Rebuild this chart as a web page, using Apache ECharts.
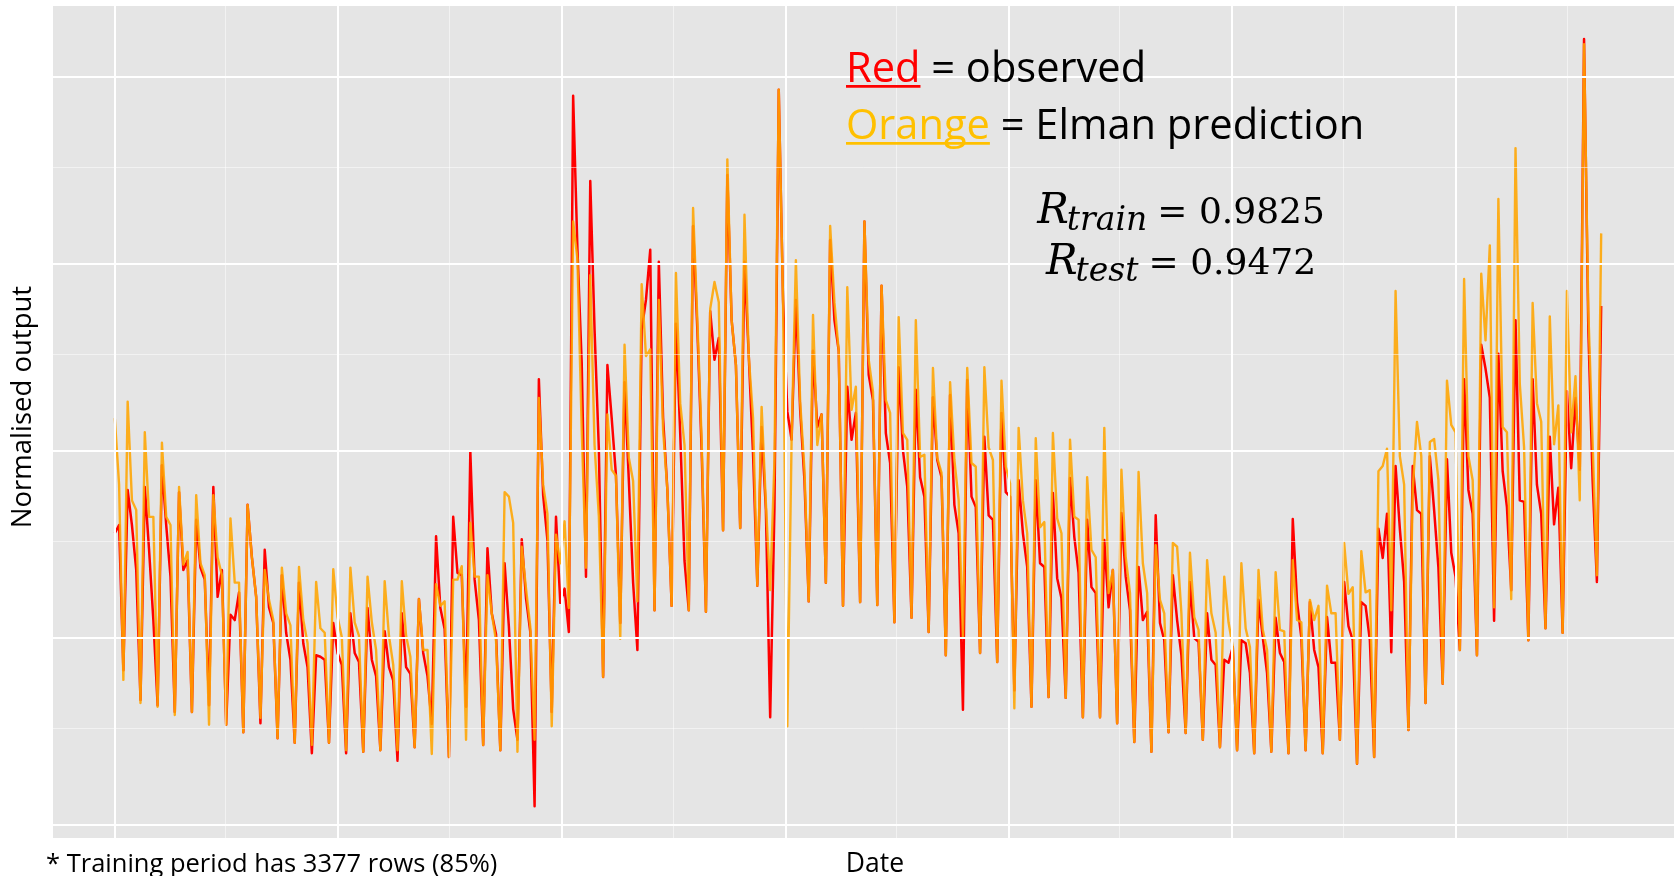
<!DOCTYPE html>
<html>
<head>
<meta charset="utf-8">
<title>Elman network: observed vs predicted</title>
<script src="https://cdn.jsdelivr.net/npm/echarts@6.0.0/dist/echarts.min.js"></script>
<style>
  html, body { margin: 0; padding: 0; background: #ffffff; }
  #chart { width: 1674px; height: 876px; }
</style>
</head>
<body>
<div id="chart"></div>
<script>
// Weekly samples starting at the first week of 2011.
const firstWeek = '2011-01-01';
const weekMs = 7 * 24 * 3600 * 1000;

// Observed output (normalised), one value per week.
const observed = [
  0.390, 0.401, 0.207,
  0.448, 0.401, 0.341, 0.167,  0.452, 0.368, 0.274, 0.160,  0.481, 0.401, 0.332, 0.151,
  0.445, 0.341, 0.354, 0.151,  0.408, 0.344, 0.328, 0.160,  0.452, 0.305, 0.341, 0.134,
  0.281, 0.274, 0.311, 0.124,  0.428, 0.358, 0.305, 0.136,  0.368, 0.291, 0.270, 0.116,
  0.334, 0.257, 0.221, 0.110,  0.324, 0.243, 0.211, 0.096,  0.227, 0.225, 0.221, 0.110,
  0.270, 0.230, 0.214, 0.096,  0.283, 0.230, 0.218, 0.098,  0.290, 0.221, 0.199, 0.100,
  0.259, 0.211, 0.193, 0.086,  0.283, 0.211, 0.202, 0.104,  0.302, 0.230, 0.199, 0.135,
  0.386, 0.290, 0.262, 0.091,  0.412, 0.337, 0.334, 0.158,  0.499, 0.328, 0.274, 0.107,
  0.370, 0.283, 0.255, 0.100,  0.350, 0.265, 0.155, 0.114,  0.382, 0.303, 0.258, 0.025,
  0.596, 0.441, 0.381, 0.151,  0.412, 0.297, 0.316, 0.258,  0.975, 0.770, 0.618, 0.332,
  0.861, 0.662, 0.503, 0.198,  0.615, 0.544, 0.467, 0.270,  0.592, 0.461, 0.324, 0.234,
  0.662, 0.702, 0.769, 0.287,  0.753, 0.544, 0.448, 0.293,  0.670, 0.523, 0.353, 0.287,
  0.801, 0.662, 0.501, 0.285,  0.687, 0.622, 0.651, 0.394,  0.869, 0.675, 0.615, 0.397,
  0.753, 0.627, 0.496, 0.320,  0.532, 0.421, 0.144, 0.425,  0.983, 0.702, 0.553, 0.515,
  0.702, 0.555, 0.461, 0.299,  0.634, 0.532, 0.549, 0.324,  0.782, 0.675, 0.634, 0.293,
  0.586, 0.515, 0.551, 0.298,  0.807, 0.602, 0.568, 0.294,  0.721, 0.524, 0.484, 0.271,
  0.612, 0.501, 0.452, 0.277,  0.582, 0.465, 0.439, 0.258,  0.572, 0.488, 0.465, 0.227,
  0.575, 0.428, 0.390, 0.154,  0.595, 0.439, 0.425, 0.230,  0.519, 0.414, 0.408, 0.218,
  0.551, 0.445, 0.439, 0.180,  0.461, 0.390, 0.345, 0.158,  0.461, 0.350, 0.345, 0.171,
  0.444, 0.330, 0.303, 0.170,  0.464, 0.385, 0.337, 0.144,  0.408, 0.318, 0.310, 0.144,
  0.381, 0.291, 0.341, 0.136,  0.417, 0.332, 0.287, 0.111,  0.345, 0.274, 0.285, 0.098,
  0.414, 0.270, 0.247, 0.124,  0.334, 0.274, 0.227, 0.123,  0.325, 0.250, 0.245, 0.114,
  0.283, 0.221, 0.214, 0.104,  0.221, 0.217, 0.238, 0.100,  0.247, 0.243, 0.203, 0.096,
  0.301, 0.251, 0.203, 0.098,  0.277, 0.230, 0.218, 0.096,  0.409, 0.298, 0.251, 0.100,
  0.298, 0.234, 0.211, 0.096,  0.278, 0.217, 0.217, 0.114,  0.325, 0.266, 0.247, 0.082,
  0.298, 0.293, 0.247, 0.091,  0.396, 0.357, 0.416, 0.231,  0.480, 0.396, 0.325, 0.127,
  0.480, 0.421, 0.416, 0.163,  0.493, 0.421, 0.344, 0.189,  0.489, 0.364, 0.332, 0.234,
  0.596, 0.448, 0.416, 0.227,  0.642, 0.610, 0.571, 0.273,  0.630, 0.473, 0.425, 0.314,
  0.675, 0.434, 0.432, 0.247,  0.596, 0.455, 0.416, 0.263,  0.519, 0.402, 0.451, 0.257,
  0.580, 0.477, 0.571, 0.475,  1.051, 0.662, 0.461, 0.325,
  0.694
];

// Elman network prediction (normalised), same weeks.
const predicted = [
  0.544, 0.455, 0.194,
  0.566, 0.434, 0.421, 0.163,  0.525, 0.412, 0.412, 0.158,  0.511, 0.412, 0.401, 0.147,
  0.452, 0.348, 0.365, 0.151,  0.441, 0.350, 0.334, 0.134,  0.441, 0.358, 0.334, 0.134,
  0.410, 0.324, 0.324, 0.124,  0.428, 0.358, 0.305, 0.143,  0.341, 0.301, 0.274, 0.116,
  0.344, 0.283, 0.267, 0.110,  0.345, 0.274, 0.243, 0.107,  0.325, 0.263, 0.257, 0.110,
  0.342, 0.278, 0.251, 0.100,  0.344, 0.271, 0.253, 0.098,  0.332, 0.271, 0.234, 0.100,
  0.326, 0.253, 0.214, 0.100,  0.326, 0.253, 0.225, 0.104,  0.302, 0.234, 0.234, 0.095,
  0.322, 0.293, 0.299, 0.091,  0.328, 0.328, 0.346, 0.114,  0.404, 0.332, 0.332, 0.107,
  0.334, 0.283, 0.246, 0.100,  0.445, 0.439, 0.404, 0.098,  0.372, 0.316, 0.265, 0.114,
  0.571, 0.455, 0.416, 0.132,  0.388, 0.350, 0.406, 0.290,  0.807, 0.757, 0.529, 0.344,
  0.735, 0.508, 0.413, 0.198,  0.549, 0.475, 0.467, 0.249,  0.642, 0.491, 0.460, 0.299,
  0.723, 0.627, 0.636, 0.287,  0.702, 0.528, 0.448, 0.293,  0.738, 0.564, 0.508, 0.287,
  0.825, 0.675, 0.515, 0.285,  0.690, 0.726, 0.699, 0.394,  0.890, 0.675, 0.615, 0.397,
  0.816, 0.627, 0.544, 0.320,  0.559, 0.430, 0.314, 0.488,  0.983, 0.702, 0.132, 0.515,
  0.755, 0.566, 0.475, 0.299,  0.682, 0.508, 0.549, 0.324,  0.801, 0.699, 0.634, 0.293,
  0.719, 0.555, 0.586, 0.298,  0.807, 0.622, 0.579, 0.294,  0.721, 0.568, 0.551, 0.271,
  0.679, 0.524, 0.515, 0.277,  0.675, 0.492, 0.495, 0.258,  0.611, 0.491, 0.471, 0.227,
  0.592, 0.488, 0.434, 0.251,  0.611, 0.484, 0.479, 0.230,  0.612, 0.505, 0.488, 0.218,
  0.594, 0.479, 0.457, 0.156,  0.531, 0.434, 0.390, 0.158,  0.517, 0.398, 0.405, 0.171,
  0.524, 0.410, 0.390, 0.170,  0.515, 0.412, 0.408, 0.144,  0.465, 0.368, 0.358, 0.144,
  0.531, 0.310, 0.341, 0.136,  0.475, 0.358, 0.310, 0.111,  0.472, 0.350, 0.310, 0.098,
  0.374, 0.301, 0.283, 0.124,  0.377, 0.372, 0.283, 0.123,  0.364, 0.278, 0.261, 0.114,
  0.354, 0.283, 0.257, 0.104,  0.332, 0.271, 0.238, 0.100,  0.350, 0.263, 0.238, 0.096,
  0.341, 0.261, 0.234, 0.098,  0.338, 0.261, 0.259, 0.096,  0.354, 0.274, 0.271, 0.100,
  0.301, 0.274, 0.293, 0.096,  0.320, 0.283, 0.283, 0.114,  0.377, 0.309, 0.318, 0.082,
  0.366, 0.311, 0.314, 0.091,  0.473, 0.480, 0.503, 0.287,  0.714, 0.493, 0.455, 0.127,
  0.448, 0.539, 0.493, 0.163,  0.512, 0.516, 0.461, 0.189,  0.594, 0.535, 0.525, 0.234,
  0.730, 0.493, 0.461, 0.227,  0.737, 0.648, 0.775, 0.291,  0.837, 0.532, 0.525, 0.302,
  0.905, 0.590, 0.505, 0.247,  0.698, 0.564, 0.539, 0.263,  0.680, 0.509, 0.561, 0.257,
  0.714, 0.525, 0.600, 0.434,  1.044, 0.687, 0.512, 0.334,
  0.791
];

// Panel gridlines: years (major) and mid-years (minor); output levels.
const yearStarts = ['2011-01-01', '2012-01-01', '2013-01-01', '2014-01-01', '2015-01-01', '2016-01-01', '2017-01-01'];
const midYears = ['2011-07-01', '2012-07-01', '2013-07-01', '2014-07-01', '2015-07-01', '2016-07-01', '2017-07-01'];
const majorLevels = [0, 0.25, 0.5, 0.75, 1];
const minorLevels = [0.125, 0.375, 0.625, 0.875];

// Visible date window and output window of the panel.
const dateWindow = ['2010-09-22', '2017-12-23'];
const outputWindow = [-0.0174, 1.095];

const legendLines = [
  { key: 'Red', keyColor: '#FF0000', rest: ' = observed' },
  { key: 'Orange', keyColor: '#FFC000', rest: ' = Elman prediction' }
];
const fitStats = [
  { sub: 'train', value: '0.9825' },
  { sub: 'test', value: '0.9472' }
];
const yTitle = 'Normalised output';
const xTitle = 'Date';
const footnote = '* Training period has 3377 rows (85%)';

const t0 = Date.parse(firstWeek);
const toSeries = arr => arr.map((v, i) => [t0 + i * weekMs, v]);

// Text measurement helpers for laying out the annotation pieces.
const probe = document.createElement('canvas').getContext('2d');
function fontStr(size, family, style) { return (style || 'normal') + ' normal ' + size + 'px ' + family; }
function measure(text, size, family, style) {
  probe.font = fontStr(size, family, style);
  probe.textBaseline = 'middle';
  return probe.measureText(text);
}
function width(text, size, family, style) { return measure(text, size, family, style).width; }
function baseDrop(size, family, style) { return measure('H', size, family, style).actualBoundingBoxDescent; }
function piece(text, x, baseline, size, family, fill, style, align) {
  return {
    type: 'text', x: x, y: baseline - baseDrop(size, family, style), silent: true, z: 100,
    style: {
      text: text, fontSize: size, fontFamily: family, fontStyle: style || 'normal',
      fill: fill, align: align || 'left', verticalAlign: 'middle'
    }
  };
}

const sans = 'Open Sans';
const serif = 'DejaVu Serif';
const graphics = [];

// Legend block with underlined colour keys.
const legendX = 846, legendSize = 41.6;
const legendBaselines = [82, 139];
legendLines.forEach((ln, i) => {
  const b = legendBaselines[i];
  const kw = width(ln.key, legendSize, sans);
  graphics.push(piece(ln.key, legendX, b, legendSize, sans, ln.keyColor));
  graphics.push(piece(ln.rest, legendX + kw, b, legendSize, sans, '#000000'));
  graphics.push({ type: 'rect', silent: true, z: 100,
    shape: { x: legendX, y: b + 3, width: kw, height: 2.8 }, style: { fill: ln.keyColor } });
});

// Correlation statistics, centred formula lines.
const statCenter = 1181;
const statBaselines = [223, 274];
const rSize = 42, subSize = 33, eqSize = 36;
fitStats.forEach((st, i) => {
  const b = statBaselines[i];
  const wR = width('R', rSize, serif, 'italic');
  const wSub = width(st.sub, subSize, serif, 'italic');
  const gap = 10;
  const eqText = '= ' + st.value;
  const wEq = width(eqText, eqSize, serif);
  const total = wR - 2 + wSub + gap + wEq;
  let x = statCenter - total / 2;
  graphics.push(piece('R', x, b, rSize, serif, '#000000', 'italic'));
  x += wR - 2;
  graphics.push(piece(st.sub, x, b + 7, subSize, serif, '#000000', 'italic'));
  x += wSub + gap;
  graphics.push(piece(eqText, x, b, eqSize, serif, '#000000'));
});

// Axis titles and footnote.
graphics.push({
  type: 'text', x: 23, y: 407, rotation: Math.PI / 2, silent: true, z: 100,
  style: { text: yTitle, fontSize: 27.5, fontFamily: sans, fill: '#000000', align: 'center', verticalAlign: 'middle' }
});
graphics.push(piece(xTitle, 875, 872, 26.5, sans, '#000000', 'normal', 'center'));
graphics.push(piece(footnote, 46, 872, 25.5, sans, '#000000'));

// Gridlines drawn through the axis scales.
const majorStyle = { color: '#FFFFFF', width: 2, type: 'solid', opacity: 1 };
const minorStyle = { color: '#FFFFFF', width: 1, type: 'solid', opacity: 0.5 };
const gridLines = []
  .concat(minorLevels.map(v => ({ yAxis: v, lineStyle: minorStyle })))
  .concat(midYears.map(d => ({ xAxis: Date.parse(d), lineStyle: minorStyle })))
  .concat(majorLevels.map(v => ({ yAxis: v, lineStyle: majorStyle })))
  .concat(yearStarts.map(d => ({ xAxis: Date.parse(d), lineStyle: majorStyle })));

const chart = echarts.init(document.getElementById('chart'), null, { renderer: 'canvas' });
chart.setOption({
  animation: false,
  backgroundColor: '#FFFFFF',
  grid: {
    show: true, left: 53, top: 6, right: 0, bottom: 38,
    backgroundColor: '#E5E5E5', borderWidth: 0
  },
  xAxis: {
    type: 'time',
    min: Date.parse(dateWindow[0]), max: Date.parse(dateWindow[1]),
    axisLine: { show: false }, axisTick: { show: false },
    axisLabel: { show: false }, splitLine: { show: false }
  },
  yAxis: {
    type: 'value',
    min: outputWindow[0], max: outputWindow[1],
    axisLine: { show: false }, axisTick: { show: false },
    axisLabel: { show: false }, splitLine: { show: false }
  },
  series: [
    {
      type: 'line', name: 'grid', data: [], z: 1, silent: true,
      markLine: {
        silent: true, animation: false, symbol: ['none', 'none'],
        label: { show: false }, emphasis: { disabled: true },
        data: gridLines
      }
    },
    {
      type: 'line', name: 'observed', data: toSeries(observed), z: 2,
      showSymbol: false, symbol: 'none', silent: true,
      lineStyle: { color: '#FF0000', width: 2.5, join: 'round' }
    },
    {
      type: 'line', name: 'Elman prediction', data: toSeries(predicted), z: 3,
      showSymbol: false, symbol: 'none', silent: true,
      lineStyle: { color: '#FFA500', width: 2.4, opacity: 0.88, join: 'round' }
    }
  ],
  graphic: { elements: graphics }
});
</script>
</body>
</html>
